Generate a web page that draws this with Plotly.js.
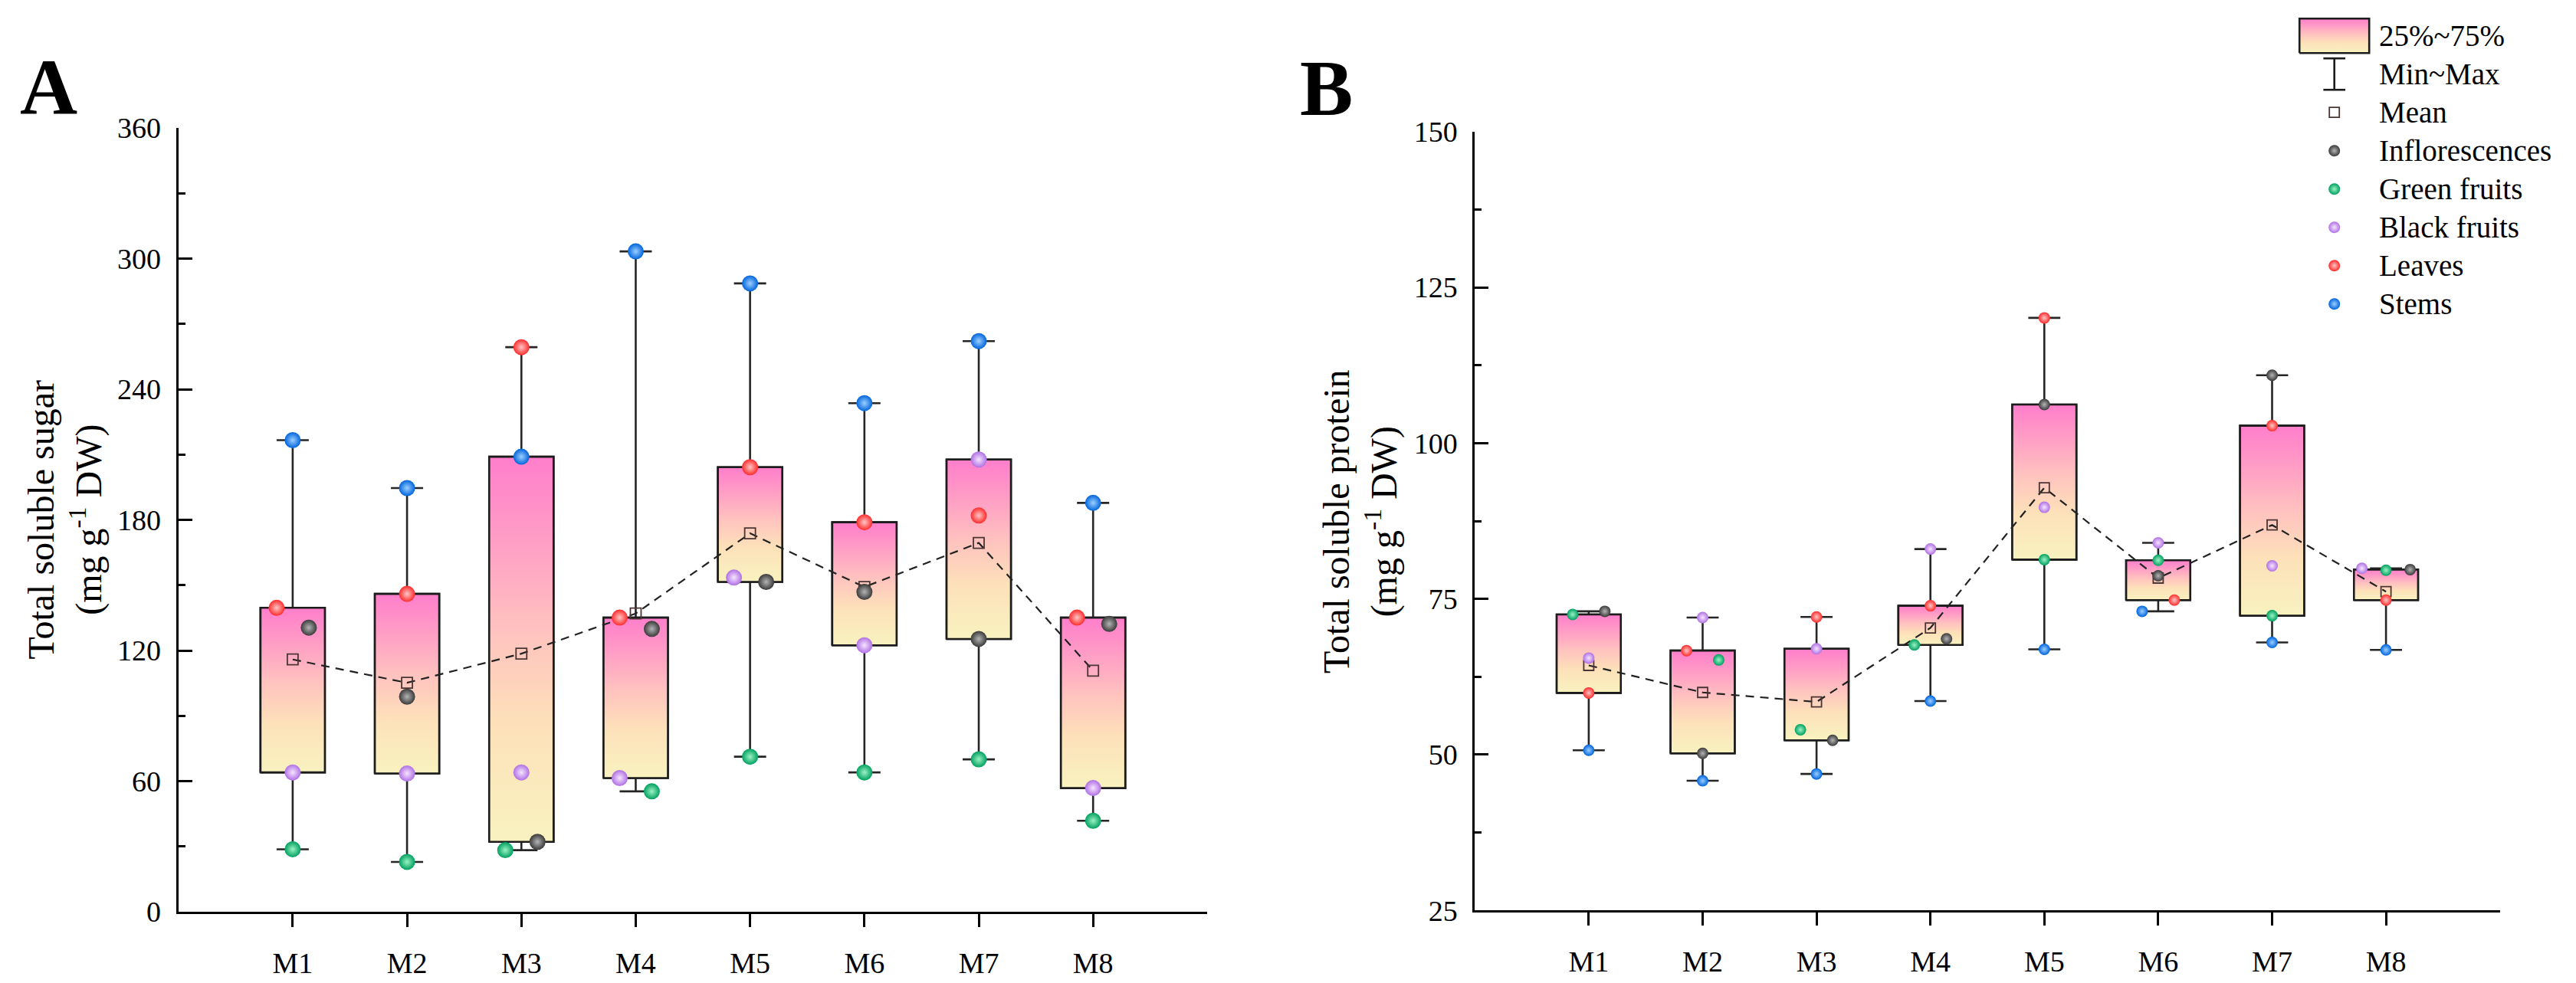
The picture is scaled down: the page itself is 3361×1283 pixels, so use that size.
<!DOCTYPE html>
<html>
<head>
<meta charset="utf-8">
<script src="https://cdn.plot.ly/plotly-3.0.1.min.js"></script>
<style>
  html, body { margin: 0; padding: 0; background: #fff; }
  #chart { width: 3361px; height: 1283px; }
</style>
</head>
<body>
<div id="chart"></div>
<script>
// groups on the x axis and the five tissues
const groups = ["M1", "M2", "M3", "M4", "M5", "M6", "M7", "M8"];
const tissues = ["Inflorescences", "Green fruits", "Black fruits", "Leaves", "Stems"];

// A: total soluble sugar (mg g-1 DW)
const sugarInflorescences = [130.5, 98.8, 32.1, 129.9, 151.5, 146.9, 125.3, 132.2];
const sugarGreenFruits = [28.7, 22.9, 28.3, 55.3, 71.2, 64.0, 70.0, 41.8];
const sugarBlackFruits = [64.0, 63.5, 64.0, 61.4, 153.5, 122.4, 207.7, 56.8];
const sugarLeaves = [139.6, 146.0, 259.3, 135.1, 204.2, 178.9, 182.0, 135.1];
const sugarStems = [216.6, 194.6, 209.0, 303.3, 288.6, 233.6, 262.1, 187.8];

// B: total soluble protein (mg g-1 DW)
const proteinInflorescences = [73.0, 50.2, 52.3, 68.6, 106.2, 78.7, 110.9, 79.7];
const proteinGreenFruits = [72.5, 65.2, 54.0, 67.6, 81.3, 81.2, 72.3, 79.6];
const proteinBlackFruits = [65.5, 72.0, 67.0, 83.0, 89.7, 84.0, 80.3, 79.9];
const proteinLeaves = [59.9, 66.7, 72.1, 73.9, 120.1, 74.8, 102.8, 74.8];
const proteinStems = [50.7, 45.8, 46.9, 58.6, 66.9, 73.0, 68.0, 66.8];

const legendLabels = ["25%~75%", "Min~Max", "Mean"].concat(tissues);

const sugarByTissue = [sugarInflorescences, sugarGreenFruits, sugarBlackFruits, sugarLeaves, sugarStems];
const proteinByTissue = [proteinInflorescences, proteinGreenFruits, proteinBlackFruits, proteinLeaves, proteinStems];

// ---- styling ----
const W = 3361, H = 1283;
const FONT = "Liberation Serif, 'Times New Roman', serif";
const tissueColor = ["#3a3a3a", "#00a05e", "#b070e4", "#ff2b2b", "#0064dc"];
const tissueGlow = ["#b4b4b4", "#9af2c6", "#f6e4ff", "#ffc6c6", "#9ccfff"];
const BOX_SCALE = [[0, "#f8f2bf"], [0.3, "#fde1b9"], [0.55, "#ffc2bf"], [0.8, "#ff9bc6"], [1, "#ff7ecb"]];
const BOX_W = 0.563;

const panels = [
  { byTissue: sugarByTissue, xa: "x", ya: "y", left: 232.7, right: 1575.4, top: 167, bottom: 1190,
    yRange: [0, 360], dtick: 60, ball: 21, square: 14,
    label: "A", labelX: 63, labelY: 113,
    title: "Total soluble sugar<br>(mg g<sup>-1</sup> DW)", titleX: 84 },
  { byTissue: proteinByTissue, xa: "x2", ya: "y2", left: 1924.3, right: 3261.7, top: 171.8, bottom: 1188.2,
    yRange: [25, 150], dtick: 25, ball: 15, square: 13,
    label: "B", labelX: 1730, labelY: 115,
    title: "Total soluble protein<br>(mg g<sup>-1</sup> DW)", titleX: 1775 }
];

const xPos = groups.map((g, j) => j + 1);

function quantile(sorted, p) {
  const pos = (sorted.length - 1) * p;
  const lo = Math.floor(pos), hi = Math.ceil(pos);
  return sorted[lo] + (sorted[hi] - sorted[lo]) * (pos - lo);
}

function groupStats(byTissue) {
  return groups.map((g, j) => {
    const vals = byTissue.map(arr => arr[j]);
    const s = vals.slice().sort((a, b) => a - b);
    return {
      vals: vals,
      min: s[0], max: s[s.length - 1],
      q1: quantile(s, 0.25), med: quantile(s, 0.5), q3: quantile(s, 0.75),
      mean: vals.reduce((a, b) => a + b, 0) / vals.length
    };
  });
}

// spread points that would sit on top of each other (simple swarm)
function swarm(vals, pxPerY, ballPx, step) {
  const order = vals.map((v, k) => k).sort((a, b) => vals[b] - vals[a]);
  const offs = vals.map(() => 0);
  let cluster = [order[0]];
  const flush = () => {
    const k = cluster.length;
    if (k < 2) return;
    const members = cluster.slice().sort((a, b) => a - b);
    const spread = k === 2 ? 2 : 1.5;
    members.forEach((m, idx) => { offs[m] = ((k - 1) / 2 - idx) * step * spread; });
  };
  for (let n = 1; n < order.length; n++) {
    const gap = (vals[order[n - 1]] - vals[order[n]]) * pxPerY;
    if (gap < 1.3 * ballPx) cluster.push(order[n]);
    else { flush(); cluster = [order[n]]; }
  }
  flush();
  return offs;
}

const traces = [];
const annotations = [];
const layout = {
  width: W, height: H, autosize: false,
  margin: { l: 0, r: 0, t: 0, b: 0 },
  paper_bgcolor: "#fff", plot_bgcolor: "rgba(0,0,0,0)",
  showlegend: false,
  font: { family: FONT, color: "#000", size: 38 }
};

panels.forEach((p, pi) => {
  const st = groupStats(p.byTissue);
  const xPx = (p.right - p.left) / 9;
  const yPx = (p.bottom - p.top) / (p.yRange[1] - p.yRange[0]);
  const step = 21 / xPx;
  const sfx = pi === 0 ? "" : "2";

  layout["xaxis" + sfx] = {
    domain: [p.left / W, p.right / W], anchor: p.ya, range: [0, 9],
    tickmode: "array", tickvals: xPos, ticktext: groups,
    ticks: "outside", ticklen: 17, tickwidth: 3, tickcolor: "#000",
    showline: true, linecolor: "#000", linewidth: 3,
    showgrid: false, zeroline: false, ticklabelstandoff: 14,
    tickfont: { family: FONT, size: 38, color: "#000" }, fixedrange: true
  };
  layout["yaxis" + sfx] = {
    domain: [1 - p.bottom / H, 1 - p.top / H], anchor: p.xa, range: p.yRange,
    dtick: p.dtick, tick0: 0,
    ticks: "inside", ticklen: 18, tickwidth: 3, tickcolor: "#000",
    minor: { dtick: p.dtick / 2, ticks: "inside", ticklen: 9, tickwidth: 3, tickcolor: "#000", showgrid: false },
    showline: true, linecolor: "#000", linewidth: 3,
    showgrid: false, zeroline: false, ticklabelstandoff: 12,
    tickfont: { family: FONT, size: 38, color: "#000" }, fixedrange: true
  };

  // min~max whiskers with caps
  traces.push({
    type: "box", xaxis: p.xa, yaxis: p.ya, x: xPos,
    q1: st.map(s => s.q1), median: st.map(s => s.med), q3: st.map(s => s.q3),
    lowerfence: st.map(s => s.min), upperfence: st.map(s => s.max),
    boxpoints: false, width: BOX_W, whiskerwidth: 0.5,
    line: { color: "#262626", width: 2.6 }, fillcolor: "rgba(0,0,0,0)",
    hoverinfo: "skip"
  });

  // 25%~75% boxes with vertical gradient
  st.forEach((s, j) => {
    const x0 = xPos[j] - BOX_W / 2, x1 = xPos[j] + BOX_W / 2;
    traces.push({
      type: "scatter", mode: "lines", xaxis: p.xa, yaxis: p.ya,
      x: [x0, x1, x1, x0, x0], y: [s.q1, s.q1, s.q3, s.q3, s.q1],
      fill: "toself", fillgradient: { type: "vertical", colorscale: BOX_SCALE },
      line: { color: "#1c1c1c", width: 2.6 }, hoverinfo: "skip"
    });
  });

  // mean, joined by a dashed line
  traces.push({
    type: "scatter", mode: "lines+markers", xaxis: p.xa, yaxis: p.ya,
    x: xPos, y: st.map(s => s.mean),
    line: { color: "#222", width: 2.2, dash: "11px,8px" },
    marker: { symbol: "square-open", size: p.square, color: "#4a3434", line: { width: 1.8 } },
    cliponaxis: false, hoverinfo: "skip"
  });

  // individual tissue values
  const offs = st.map(s => swarm(s.vals, yPx, p.ball, step));
  tissues.forEach((t, k) => {
    traces.push({
      type: "scatter", mode: "markers", xaxis: p.xa, yaxis: p.ya, name: t,
      x: xPos.map((x, j) => x + offs[j][k]), y: p.byTissue[k],
      marker: { size: p.ball, color: tissueColor[k], line: { width: 0 },
                gradient: { type: "radial", color: tissueGlow[k] } },
      cliponaxis: false
    });
  });

  annotations.push({
    xref: "paper", yref: "paper", x: p.labelX / W, y: 1 - p.labelY / H,
    xanchor: "center", yanchor: "middle", showarrow: false, text: "<b>" + p.label + "</b>",
    font: { family: FONT, size: 104, color: "#000" }
  });
  annotations.push({
    xref: "paper", yref: "paper", x: p.titleX / W, y: 1 - ((p.top + p.bottom) / 2) / H,
    xanchor: "center", yanchor: "middle", showarrow: false, textangle: -90,
    text: p.title, font: { family: FONT, size: 48, color: "#000" }
  });
});

// ---- legend, drawn on an invisible pixel-scaled overlay ----
layout.xaxis3 = { domain: [0, 1], range: [0, W], visible: false, anchor: "y3", fixedrange: true };
layout.yaxis3 = { domain: [0, 1], range: [0, H], visible: false, anchor: "x3", fixedrange: true };
const LEG_X = 3045.7, LEG_TEXT_X = 3102, LEG_Y0 = 46.7, LEG_DY = 50;
const rowY = k => H - (LEG_Y0 + k * LEG_DY);

traces.push({
  type: "scatter", mode: "lines", xaxis: "x3", yaxis: "y3",
  x: [LEG_X - 45.5, LEG_X + 45.5, LEG_X + 45.5, LEG_X - 45.5, LEG_X - 45.5],
  y: [rowY(0) - 22.5, rowY(0) - 22.5, rowY(0) + 22.5, rowY(0) + 22.5, rowY(0) - 22.5],
  fill: "toself", fillgradient: { type: "vertical", colorscale: BOX_SCALE },
  line: { color: "#1c1c1c", width: 2.6 }, hoverinfo: "skip"
});
traces.push({
  type: "scatter", mode: "lines", xaxis: "x3", yaxis: "y3",
  x: [LEG_X, LEG_X, null, LEG_X - 14.3, LEG_X + 14.3, null, LEG_X - 14.3, LEG_X + 14.3],
  y: [rowY(1) - 20.5, rowY(1) + 20.5, null, rowY(1) + 20.5, rowY(1) + 20.5, null, rowY(1) - 20.5, rowY(1) - 20.5],
  line: { color: "#1c1c1c", width: 2.6 }, hoverinfo: "skip"
});
traces.push({
  type: "scatter", mode: "markers", xaxis: "x3", yaxis: "y3",
  x: [LEG_X], y: [rowY(2)],
  marker: { symbol: "square-open", size: 13, color: "#4a3434", line: { width: 1.8 } }, hoverinfo: "skip"
});
tissues.forEach((t, k) => {
  traces.push({
    type: "scatter", mode: "markers", xaxis: "x3", yaxis: "y3",
    x: [LEG_X], y: [rowY(3 + k)],
    marker: { size: 15, color: tissueColor[k], line: { width: 0 },
              gradient: { type: "radial", color: tissueGlow[k] } },
    hoverinfo: "skip"
  });
});
legendLabels.forEach((lab, k) => {
  annotations.push({
    xref: "x3", yref: "y3", x: LEG_TEXT_X, y: rowY(k),
    xanchor: "left", yanchor: "middle", showarrow: false, text: lab,
    font: { family: FONT, size: 39, color: "#000" }
  });
});

layout.annotations = annotations;

Plotly.newPlot("chart", traces, layout, { displayModeBar: false, staticPlot: true });
</script>
</body>
</html>
